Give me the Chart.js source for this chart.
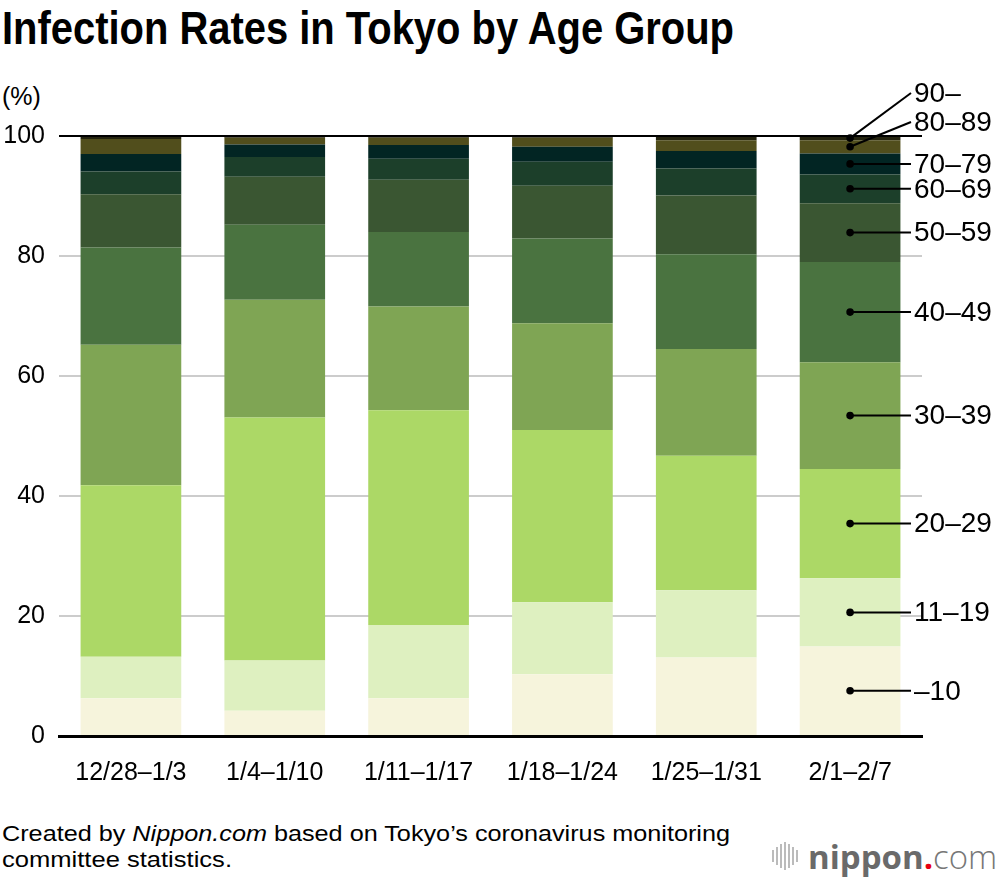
<!DOCTYPE html>
<html>
<head>
<meta charset="utf-8">
<script src="https://cdn.jsdelivr.net/npm/chart.js@4.4.1/dist/chart.umd.min.js"></script>
<style>
  body { margin: 0; background: #fff; font-family: "Liberation Sans", Arial, sans-serif; color: #000; }
  #wrap { position: relative; width: 1000px; height: 880px; overflow: hidden; }
  .fit { position: absolute; white-space: nowrap; transform-origin: 0 0; line-height: 1; }
  #title { left: 2px; top: 5px; font-size: 46px; font-weight: bold; }
  #unit { left: 2px; top: 84px; font-size: 25px; }
  #note1 { left: 2px; top: 823px; font-size: 22px; }
  #note2 { left: 2px; top: 849px; font-size: 22px; }
  #chartBox { position: absolute; left: 0; top: 0; width: 1000px; height: 800px; }
  #logo { position: absolute; left: 772px; top: 836px; height: 40px; display: flex; align-items: center; }
  #logo .bars { display: flex; align-items: center; margin-right: 8px; }
  #logo .bars i { display: block; width: 2px; margin-right: 2px; background: #bbb; }
  #logo .txt { font-family: "Open Sans", sans-serif; font-size: 33px; line-height: 1; color: #6a6a6a; }
</style>
</head>
<body>
<div id="wrap">
  <div id="title" class="fit" data-w="732">Infection Rates in Tokyo by Age Group</div>
  <div id="unit" class="fit">(%)</div>
  <div id="chartBox"><canvas id="chart"></canvas></div>
  <div id="note1" class="fit" data-w="728">Created by <i>Nippon.com</i> based on Tokyo’s coronavirus monitoring</div>
  <div id="note2" class="fit" data-w="230">committee statistics.</div>
  <div id="logo">
    <span class="bars"><i style="height:12px"></i><i style="height:18px"></i><i style="height:24px"></i><i style="height:28px"></i><i style="height:24px"></i><i style="height:18px"></i><i style="height:12px"></i></span>
    <span class="txt"><b style="font-weight:700">nippon</b><span style="color:#e60012;font-weight:700">.</span><span style="font-weight:300;color:#777">com</span></span>
  </div>
</div>
<script>
// semaines
var weeks = ['12/28–1/3', '1/4–1/10', '1/11–1/17', '1/18–1/24', '1/25–1/31', '2/1–2/7'];

// tranches d'âge (du bas vers le haut)
var ageGroups = ['–10', '11–19', '20–29', '30–39', '40–49', '50–59', '60–69', '70–79', '80–89', '90–'];

// part de chaque tranche (%) par semaine
var age0_10  = [6.3, 4.2, 6.3, 10.3, 13.1, 14.9];
var age11_19 = [6.9, 8.4, 12.2, 12.0, 11.2, 11.4];
var age20_29 = [28.6, 40.5, 35.8, 28.7, 22.4, 18.2];
var age30_39 = [23.4, 19.6, 17.3, 17.8, 17.8, 17.8];
var age40_49 = [16.2, 12.5, 12.4, 14.1, 15.8, 16.7];
var age50_59 = [8.9, 8.0, 8.7, 8.8, 9.8, 9.8];
var age60_69 = [3.8, 3.3, 3.5, 4.0, 4.5, 4.8];
var age70_79 = [2.9, 2.1, 2.3, 2.5, 2.9, 3.5];
var age80_89 = [2.5, 1.1, 1.2, 1.5, 1.8, 2.2];
var age90up  = [0.5, 0.3, 0.3, 0.3, 0.7, 0.7];

var yTicks = [0, 20, 40, 60, 80, 100];

var series = [age0_10, age11_19, age20_29, age30_39, age40_49, age50_59, age60_69, age70_79, age80_89, age90up];
var colors = ['#f6f4dc', '#def0c0', '#acd866', '#7fa554', '#4a7340', '#3a5632', '#1c3f2a', '#022523', '#514e1c', '#24230f'];

// ajuste la largeur des textes HTML (police un peu condensée dans l'original)
document.querySelectorAll('.fit[data-w]').forEach(function(el) {
    var w = el.getBoundingClientRect().width;
    el.style.transform = 'scaleX(' + (parseFloat(el.dataset.w) / w) + ')';
});

// étiquettes à droite, reliées à la dernière barre
var sideLabels = {
    id: 'sideLabels',
    afterDatasetsDraw: function(chart) {
        var ctx = chart.ctx;
        var area = chart.chartArea;
        var y = chart.scales.y;
        ctx.save();
        // ligne noire du 100 %
        ctx.strokeStyle = '#000';
        ctx.lineWidth = 2;
        ctx.beginPath();
        ctx.moveTo(area.left, y.getPixelForValue(100));
        ctx.lineTo(area.right, y.getPixelForValue(100));
        ctx.stroke();

        var last = weeks.length - 1;
        var lineEnd = 911;
        ctx.font = '28px "Liberation Sans", Arial, sans-serif';
        ctx.textBaseline = 'middle';
        ctx.fillStyle = '#000';
        ctx.lineWidth = 2;
        chart.data.datasets.forEach(function(ds, i) {
            var bar = chart.getDatasetMeta(i).data[last];
            var mid = (bar.y + bar.base) / 2;
            var ly = mid;
            if (i === 9) ly = area.top - 43;
            if (i === 8) ly = area.top - 14;
            ctx.beginPath();
            ctx.moveTo(bar.x, mid);
            ctx.lineTo(lineEnd, ly);
            ctx.stroke();
            ctx.beginPath();
            ctx.arc(bar.x, mid, 3.8, 0, Math.PI * 2);
            ctx.fill();
            ctx.fillText(ds.label, lineEnd + 3, ly + 1);
        });
        ctx.restore();
    }
};

var ctx = document.getElementById('chart').getContext('2d');
var chart = new Chart(ctx, {
    type: 'bar',
    data: {
        labels: weeks,
        datasets: series.map(function(d, i) {
            return {
                label: ageGroups[i],
                data: d,
                backgroundColor: colors[i],
                borderWidth: 0,
                barPercentage: 0.70,
                categoryPercentage: 1.0
            };
        })
    },
    options: {
        responsive: true,
        maintainAspectRatio: false,
        animation: false,
        layout: { padding: { top: 136, right: 78, left: 0, bottom: 14 } },
        plugins: {
            legend: { display: false },
            tooltip: { enabled: false }
        },
        scales: {
            x: {
                stacked: true,
                grid: { display: false },
                border: { display: true, color: '#000', width: 3 },
                ticks: { color: '#000', padding: 14, font: { family: '"Liberation Sans", Arial, sans-serif', size: 25 } },
                afterFit: function(scale) { scale.height = 50; }
            },
            y: {
                stacked: true,
                min: 0,
                max: 100,
                afterBuildTicks: function(scale) { scale.ticks = yTicks.map(function(v) { return { value: v }; }); },
                grid: {
                    color: function(c) { return c.tick && c.tick.value === 0 ? '#000' : '#cccccc'; },
                    lineWidth: 2,
                    drawTicks: false
                },
                border: { display: false },
                ticks: { color: '#000', padding: 14, font: { family: '"Liberation Sans", Arial, sans-serif', size: 25 } },
                afterFit: function(scale) { scale.width = 59; }
            }
        }
    },
    plugins: [sideLabels]
});
</script>
</body>
</html>
